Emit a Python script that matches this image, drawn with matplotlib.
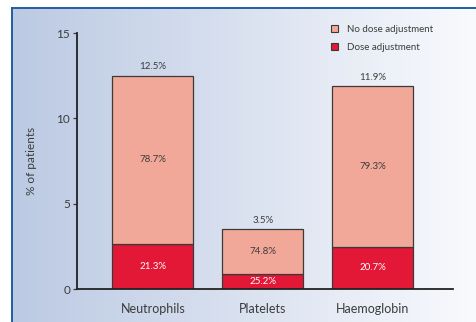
import numpy as np
import matplotlib
matplotlib.use("Agg")
import matplotlib.pyplot as plt
from matplotlib.patches import Rectangle
from matplotlib.lines import Line2D

categories = ["Neutrophils", "Platelets", "Haemoglobin"]
total_pct = [12.5, 3.5, 11.9]          # % of patients (bar height)
dose_adj_share = [21.3, 25.2, 20.7]    # share of bar with dose adjustment
no_dose_share = [78.7, 74.8, 79.3]     # share of bar without dose adjustment
yticks = [0, 5, 10, 15]

C_NO = "#f2a898"
C_DOSE = "#e31837"
C_EDGE = "#3a3a3a"
C_TEXT = "#3c3c3c"

plt.rcParams["font.family"] = ["Lato", "DejaVu Sans"]

W, H = 477, 322
fig = plt.figure(figsize=(W / 100, H / 100), dpi=100)

# gradient panel with blue frame on top and left
px = lambda x: x / W
py = lambda y: 1 - y / H
bg = fig.add_axes([px(12), 0, 1 - px(12), py(8)])
grad = np.linspace(0, 1, 256)
c0 = np.array([0.735, 0.790, 0.890])
c1 = np.array([0.975, 0.980, 0.992])
img = c0[None, :] * (1 - grad[:, None]) + c1[None, :] * grad[:, None]
bg.imshow(img[None, :, :], aspect="auto", extent=[0, 1, 0, 1])
bg.set_xlim(0, 1)
bg.set_ylim(0, 1)
bg.axis("off")
fig.add_artist(Line2D([px(12), 1], [py(8), py(8)], color="#1f5fa0", lw=1.4))
fig.add_artist(Line2D([px(12), px(12)], [0, py(8)], color="#1f5fa0", lw=1.4))

# chart axes
x_left, x_right = 77, 453
y_top, y_bot = 33, 289
ax = fig.add_axes([px(x_left), py(y_bot), px(x_right - x_left), (y_bot - y_top) / H])
ax.patch.set_visible(False)

x = np.arange(len(categories))
width = 0.735
dose = [t * s / 100 for t, s in zip(total_pct, dose_adj_share)]
nodose = [t - d for t, d in zip(total_pct, dose)]

ax.bar(x, dose, width, color=C_DOSE, edgecolor=C_EDGE, linewidth=0.9, label="Dose adjustment")
ax.bar(x, nodose, width, bottom=dose, color=C_NO, edgecolor=C_EDGE, linewidth=0.9,
       label="No dose adjustment")

for i in range(len(categories)):
    ax.text(x[i], dose[i] / 2, f"{dose_adj_share[i]}%", ha="center", va="center",
            color="white", fontsize=7)
    ax.text(x[i], dose[i] + nodose[i] / 2, f"{no_dose_share[i]}%", ha="center",
            va="center", color=C_TEXT, fontsize=7)
    ax.text(x[i], total_pct[i] + 0.25, f"{total_pct[i]}%", ha="center", va="bottom",
            color=C_TEXT, fontsize=7)

ax.set_xlim(-0.69, 2.73)
ax.set_ylim(0, 15)
ax.set_yticks(yticks)
ax.set_xticks(x)
ax.set_xticklabels(categories)
ax.tick_params(axis="y", length=3, width=0.9, color=C_EDGE, labelsize=8.5, labelcolor=C_TEXT, pad=2)
ax.tick_params(axis="x", length=0, labelsize=9, labelcolor=C_TEXT, pad=10)
for s in ["top", "right"]:
    ax.spines[s].set_visible(False)
for s in ["left", "bottom"]:
    ax.spines[s].set_color("#222222")
    ax.spines[s].set_linewidth(1.3)
ax.set_ylabel("% of patients", fontsize=8.5, color=C_TEXT, labelpad=14)

# legend
leg_handles = [
    Rectangle((0, 0), 1, 1, facecolor=C_NO, edgecolor=C_EDGE, linewidth=0.8),
    Rectangle((0, 0), 1, 1, facecolor=C_DOSE, edgecolor=C_EDGE, linewidth=0.8),
]
fig.legend(leg_handles, ["No dose adjustment", "Dose adjustment"],
           loc="upper left", bbox_to_anchor=(px(331), py(25)), frameon=False,
           fontsize=7, handlelength=0.75, handleheight=0.75, handletextpad=0.9,
           labelspacing=0.95, borderaxespad=0, borderpad=0, labelcolor=C_TEXT)

fig.savefig("out.png", dpi=100)
